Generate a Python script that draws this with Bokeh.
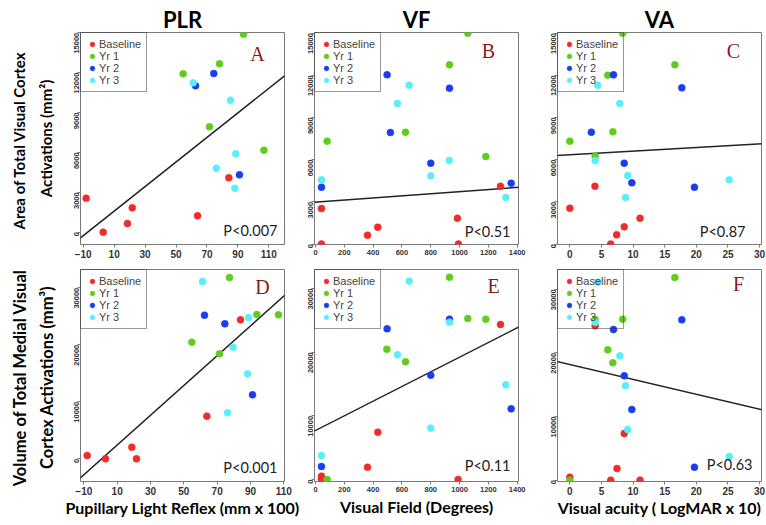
import math
from bokeh.plotting import figure
from bokeh.models import Range1d, FixedTicker, Slope, Label, Legend, LegendItem, LinearAxis, Title
from bokeh.layouts import row, column
from bokeh.embed import file_html
from bokeh.resources import INLINE

groups = ["Baseline", "Yr 1", "Yr 2", "Yr 3"]
colors = ["#f02b2b", "#5fcc1e", "#1c3cf0", "#5aeefc"]

column_titles = ["PLR", "VF", "VA"]
x_titles = ["Pupillary Light Reflex (mm x 100)", "Visual Field (Degrees)", "Visual acuity ( LogMAR x 10)"]
y_titles_row1 = ["Area of Total  Visual Cortex", "Activations (mm\u00b2)"]
y_titles_row2 = ["Volume of Total  Medial Visual", "Cortex  Activations (mm\u00b3)"]
panel_letters = ["A", "B", "C", "D", "E", "F"]
p_values = ["P<0.007", "P<0.51", "P<0.87", "P<0.001", "P<0.11", "P<0.63"]
fit_slopes = [92.3, 0.752, 25.7, 261.2, 11.53, -234.5]
fit_intercepts = [663, 2970, 6343, -205, 7703, 18186]

x_ticks_plr = [-10, 10, 30, 50, 70, 90, 110]
x_ticks_vf = [0, 200, 400, 600, 800, 1000, 1200, 1400]
x_ticks_va = [0, 5, 10, 15, 20, 25, 30]
y_ticks_area = [0, 3000, 6000, 9000, 12000, 15000]
y_ticks_volume = [0, 10000, 20000, 30000]

# Panel A: PLR vs area
A_g = ["Baseline"] * 6 + ["Yr 1"] * 5 + ["Yr 2"] * 3 + ["Yr 3"] * 5
A_x = [-8.1, 2.9, 18.6, 21.7, 63.9, 84.1,
       93.6, 54.6, 78.1, 71.6, 106.8,
       74.4, 62.6, 91.0,
       61.1, 85.2, 88.6, 76.0, 88.0]
A_y = [2560, 0, 654, 1832, 1230, 4088,
       14890, 11910, 12662, 7924, 6169,
       11934, 11007, 4314,
       11233, 9929, 5893, 4815, 3311]

# Panel B: VF vs area
B_g = ["Baseline"] * 7 + ["Yr 1"] * 5 + ["Yr 2"] * 6 + ["Yr 3"] * 6
B_x = [41.6, 41.6, 361, 432.6, 985, 992, 1284,
       1057, 930, 81, 624.6, 1182,
       497, 930, 520, 800, 41.6, 1358,
       41.6, 650, 569, 928, 800, 1321]
B_y = [0, 2524, 628, 1197, 1837, 0, 4112,
       14990, 12739, 7311, 7951, 6221,
       12028, 11080, 7928, 5747, 4041, 4325,
       4562, 11293, 9990, 5937, 4847, 3306]

# Panel C: VA vs area
C_g = ["Baseline"] * 6 + ["Yr 1"] * 6 + ["Yr 2"] * 6 + ["Yr 3"] * 6
C_x = [0, 3.97, 6.46, 7.4, 8.6, 11.1,
       8.36, 16.6, 6.0, 0, 6.8, 4.0,
       6.9, 17.7, 3.4, 8.6, 9.8, 19.7,
       4.4, 7.9, 4.0, 9.15, 8.8, 25.2]
C_y = [2548, 4112, 0, 652, 1221, 1837,
       14990, 12739, 12004, 7311, 7975, 6245,
       12028, 11104, 7951, 5747, 4349, 4041,
       11293, 9990, 5937, 4870, 3306, 4562]

# Panel D: PLR vs volume
D_g = ["Baseline"] * 6 + ["Yr 1"] * 5 + ["Yr 2"] * 3 + ["Yr 3"] * 5
D_x = [-8.0, 3.0, 18.8, 21.6, 63.8, 84.0,
       77.4, 54.8, 71.4, 93.8, 106.8,
       62.4, 74.6, 91.2,
       61.2, 88.8, 79.6, 88.2, 76.2]
D_y = [579, 0, 2040, 0, 7478, 24375,
       31800, 20458, 18412, 25310, 25252,
       25193, 23673, 11222,
       31098, 24785, 19580, 14904, 8068]

# Panel E: VF vs volume
E_g = ["Baseline"] * 6 + ["Yr 1"] * 6 + ["Yr 2"] * 5 + ["Yr 3"] * 6
E_x = [41.6, 41.6, 361, 432.6, 990, 1284,
       81, 930, 495, 624.6, 1057, 1182,
       41.6, 497, 930, 800, 1358,
       41.6, 650, 569, 930, 800, 1321]
E_y = [0, 524, 1939, 7441, 0, 24366,
       0, 31807, 20488, 18497, 25309, 25204,
       2044, 23685, 25204, 16401, 11109,
       3773, 31178, 19598, 24733, 8070, 14882]

# Panel F: VA vs volume
F_g = ["Baseline"] * 6 + ["Yr 1"] * 6 + ["Yr 2"] * 5 + ["Yr 3"] * 6
F_x = [0, 6.46, 7.46, 8.6, 11.1, 4.0,
       0, 16.6, 4.0, 8.36, 6.0, 6.8,
       6.9, 17.7, 8.6, 9.8, 19.7,
       4.4, 4.0, 7.9, 8.8, 9.15, 25.2]
F_y = [472, 0, 1834, 7336, 0, 24260,
       0, 31860, 25256, 25309, 20488, 18444,
       23685, 25204, 16401, 11109, 2044,
       31126, 24838, 19545, 14830, 7965, 3721]

TICK_FONT = "Liberation Sans"
TITLE_FONT = "Lato"


def make_panel(i, xs, ys, gs, xr, yr, xticks, yticks, width, height,
               bl, br, bt, bb, xfont):
    p = figure(width=width, height=height,
               x_range=Range1d(*xr), y_range=Range1d(*yr),
               output_backend="svg", toolbar_location=None,
               min_border_left=bl, min_border_right=br,
               min_border_top=bt, min_border_bottom=bb)
    p.grid.visible = False
    p.background_fill_color = "white"
    p.border_fill_color = "white"
    p.outline_line_color = "#7a7a7a"
    p.outline_line_width = 1

    for ax, ticks in ((p.xaxis, xticks), (p.yaxis, yticks)):
        ax.ticker = FixedTicker(ticks=ticks)
        ax.axis_line_color = None
        ax.major_tick_line_color = "#7a7a7a"
        ax.major_tick_in = 0
        ax.major_tick_out = 3
        ax.minor_tick_line_color = None
        ax.major_label_text_font = TICK_FONT
        ax.major_label_text_font_style = "bold"
        ax.major_label_text_color = "#333333"
        ax.axis_label_text_font = TITLE_FONT
        ax.axis_label_text_font_style = "bold"
        ax.axis_label_text_color = "black"
    p.xaxis.axis_label_text_font_size = "16px"
    p.xaxis.major_label_text_font_size = xfont
    p.xaxis.major_label_standoff = 2
    p.yaxis.major_label_text_font_size = "7.5px"
    p.yaxis.major_label_orientation = math.pi / 2
    p.yaxis.major_label_standoff = 1

    p.add_layout(Slope(gradient=fit_slopes[i], y_intercept=fit_intercepts[i],
                       line_color="#222222", line_width=1.5, level="underlay"))

    items = []
    for g, c in zip(groups, colors):
        sx = [x for x, gg in zip(xs, gs) if gg == g]
        sy = [y for y, gg in zip(ys, gs) if gg == g]
        r = p.scatter(sx, sy, size=7, fill_color=c, line_color=c, line_width=0.5)
        items.append(LegendItem(label=g, renderers=[r]))

    legend = Legend(items=items, location="top_left", margin=0, padding=5,
                    spacing=0, glyph_width=12, glyph_height=12, label_height=12,
                    label_standoff=1, label_text_font=TICK_FONT,
                    label_text_font_size="11px", label_text_color="#444444",
                    border_line_color="#333333", border_line_width=1,
                    background_fill_alpha=0)
    p.add_layout(legend)
    return p


pA = make_panel(0, A_x, A_y, A_g, (-11.75, 120.1), (-925, 15017), x_ticks_plr, y_ticks_area,
                300, 264, 80, 16, 32, 20, "10px")
pB = make_panel(1, B_x, B_y, B_g, (-6.9, 1409), (-35, 15040), x_ticks_vf, y_ticks_area,
                236, 264, 14, 18, 32, 20, "7.5px")
pC = make_panel(2, C_x, C_y, C_g, (-1.95, 30.3), (-35, 15040), x_ticks_va, y_ticks_area,
                229, 264, 21, 4, 32, 20, "10px")
pD = make_panel(3, D_x, D_y, D_g, (-12.0, 110.4), (-3980, 33200), x_ticks_plr, y_ticks_volume,
                300, 260, 80, 16, 5, 43, "10px")
pE = make_panel(4, E_x, E_y, E_g, (-6.9, 1409), (-314, 33012), x_ticks_vf, y_ticks_volume,
                236, 260, 14, 18, 5, 43, "7.5px")
pF = make_panel(5, F_x, F_y, F_g, (-1.95, 30.3), (-209, 33117), x_ticks_va, y_ticks_volume,
                229, 260, 21, 4, 5, 43, "10px")

panels = [pA, pB, pC, pD, pE, pF]

# column titles
for p, t in zip([pA, pB, pC], column_titles):
    p.add_layout(Title(text=t, align="center", text_font=TITLE_FONT, text_font_size="22px",
                       text_font_style="bold", text_color="black", standoff=0), "above")

# x axis titles (bottom row)
for p, t, so in zip([pD, pE, pF], x_titles, [0, 2, 0]):
    p.xaxis.axis_label = t
    p.xaxis.axis_label_standoff = so

# y axis titles: inner line on the main axis, outer line on an extra bare axis
for p, (outer_t, inner_t), fs, s_in, s_out in ((pA, y_titles_row1, "15px", 14, 6),
                                               (pD, y_titles_row2, "16.5px", 12, 4)):
    p.yaxis.axis_label = inner_t
    p.yaxis.axis_label_standoff = s_in
    p.yaxis.axis_label_text_font_size = fs
    outer = LinearAxis(ticker=FixedTicker(ticks=[]), axis_label=outer_t,
                       axis_line_color=None, major_tick_out=0, major_tick_in=0,
                       minor_tick_out=0, minor_tick_in=0, major_label_standoff=0,
                       axis_label_standoff=s_out, axis_label_text_font=TITLE_FONT,
                       axis_label_text_font_style="bold", axis_label_text_font_size=fs,
                       axis_label_text_color="black")
    p.add_layout(outer, "left")


def add_label(p, text, x, y, font, size, style="normal", color="black",
              align="center", baseline="middle", angle=0):
    p.add_layout(Label(x=x, y=y, x_units="screen", y_units="screen", text=text,
                       text_font=font, text_font_size=size, text_font_style=style,
                       text_color=color, text_align=align, text_baseline=baseline,
                       angle=angle))


# panel letters
letter_pos = [(177, 191), (174, 194), (176, 194), (182, 195), (179, 196), (181, 198)]
for p, t, (lx, ly) in zip(panels, panel_letters, letter_pos):
    add_label(p, t, lx, ly, "Liberation Serif", "20px", color="#8b1a1a")

# p values
p_pos = [(197, 14), (196, 13), (188, 13), (197, 14), (196, 16), (195, 17)]
for p, t, (px, py) in zip(panels, p_values, p_pos):
    add_label(p, t, px, py, TITLE_FONT, "14.5px", color="#222222", align="right")

layout = column(row(pA, pB, pC), row(pD, pE, pF))

open("out.html", "w").write(file_html(layout, INLINE))
